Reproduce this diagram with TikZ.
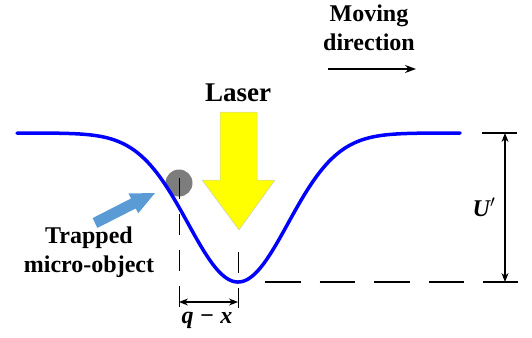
\documentclass[tikz,border=0pt]{standalone}
\usepackage{fontspec}
\setmainfont{Liberation Serif}
\usetikzlibrary{arrows.meta}
\definecolor{curveblue}{RGB}{0,0,255}
\definecolor{ptrblue}{RGB}{91,155,213}
\definecolor{ballgray}{RGB}{125,125,125}
\definecolor{laseryellow}{RGB}{255,255,0}
\tikzset{
  lbl/.style={font=\bfseries\fontsize{24}{29}\selectfont, align=center, inner sep=0pt},
  dimline/.style={line width=1.2pt, {Stealth[length=9pt,width=7pt]}-{Stealth[length=9pt,width=7pt]}},
  guide/.style={line width=1pt, dash pattern=on 21pt off 15pt},
  baseline dash/.style={line width=1.6pt, dash pattern=on 35.6pt off 19pt},
}
\begin{document}
\begin{tikzpicture}[x=1pt,y=-1pt]
\useasboundingbox (0,0) rectangle (532,337);
% laser arrow
\fill[laseryellow, draw=black!20, line width=0.5pt] (220,112) -- (257,112) -- (257,180) -- (275,180) -- (239,230) -- (202,180) -- (220,180) -- cycle;
\node[lbl, font=\bfseries\fontsize{27}{32}\selectfont] (laser) at (238,93) {Laser};
% ball
\fill[ballgray] (179,183) circle (13.5);
% potential curve
\draw[curveblue, line width=3.5pt, line cap=round] plot[domain=17:460, samples=220, smooth] (\x, {133+149*exp(-0.5*((\x-238)/50)^2)});
% guides
\coordinate (g1top) at (179,178);
\coordinate (g1bot) at (179,308);
\coordinate (g2top) at (238,252);
\coordinate (g2bot) at (238,308);
\draw[guide] (g1top) -- (g1bot);
\draw[guide] (g2top) -- (g2bot);
% q - x dimension
\coordinate (qa) at (179,302);
\coordinate (qb) at (238,302);
\draw[dimline] (qa) -- (qb);
\node[lbl, font=\bfseries\itshape\fontsize{24}{29}\selectfont] (qx) at (207,320) {q − x};
% baseline dashed
\coordinate (bl1) at (265,282);
\coordinate (bl2) at (518,282);
\draw[baseline dash] (bl1) -- (bl2);
% top tick
\coordinate (tt1) at (482,133);
\coordinate (tt2) at (517,133);
\draw[line width=1.6pt] (tt1) -- (tt2);
% U' dimension
\coordinate (ua) at (505,133);
\coordinate (ub) at (505,282);
\draw[dimline] (ua) -- (ub);
\node[lbl, font=\bfseries\itshape\fontsize{24}{29}\selectfont] (U) at (484,207) {U$^{\prime}$};
% moving direction
\node[lbl] (mov) at (369,28) {Moving\\direction};
\coordinate (ma) at (328,69);
\coordinate (mb) at (416,69);
\draw[line width=1.5pt, -{Stealth[length=11pt,width=8pt]}] (ma) -- (mb);
% pointer arrow
\fill[ptrblue] (97.4,227.9) -- (135.8,208.4) -- (138.2,213.3) -- (155,193) -- (128.6,193.5) -- (131.0,198.5) -- (92.6,218.1) -- cycle;
\node[lbl] (trap) at (89,252) {Trapped\\micro-object};
\end{tikzpicture}
\end{document}
